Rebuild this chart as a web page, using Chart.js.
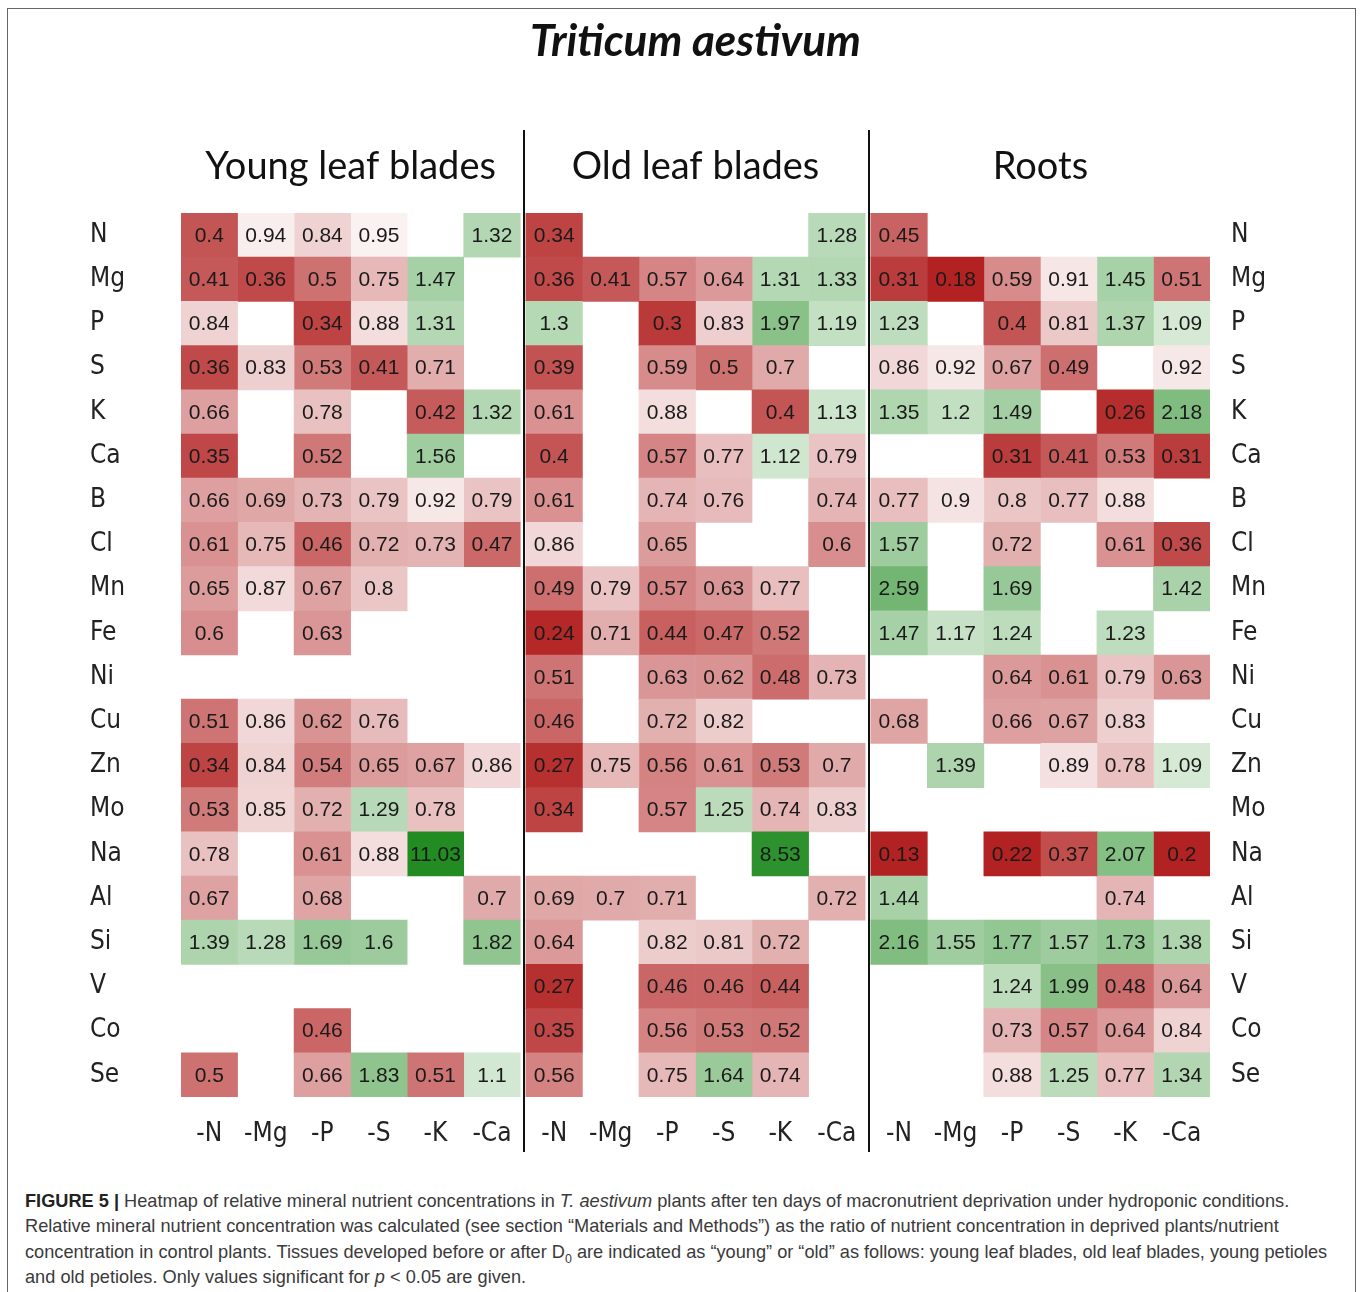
<!DOCTYPE html>
<html>
<head>
<meta charset="utf-8">
<script src="https://cdn.jsdelivr.net/npm/chart.js@4.4.1/dist/chart.umd.min.js"></script>
<style>
  body { margin: 0; background: #fff; }
  .khung { position: absolute; left: 7px; top: 8px; width: 1349px; height: 1290px; border: 1px solid #666; box-sizing: border-box; }
  #vung { position: absolute; left: 0; top: 0; width: 1360px; height: 1165px; }
  .chu-thich { position: absolute; left: 25px; top: 1188px; display: inline-block; font-family: 'Liberation Sans', Arial, sans-serif; font-size: 19px; line-height: 25.3px; color: #3a3a3a; white-space: nowrap; transform-origin: 0 0; }
  .chu-thich b { color: #222; }
</style>
</head>
<body>
<div class="khung"></div>
<div id="vung"><canvas id="bieuDo" width="1360" height="1165"></canvas></div>
<div class="chu-thich" id="chuThich">
  <b>FIGURE 5 |</b> Heatmap of relative mineral nutrient concentrations in <i>T. aestivum</i> plants after ten days of macronutrient deprivation under hydroponic conditions.<br>
  Relative mineral nutrient concentration was calculated (see section “Materials and Methods”) as the ratio of nutrient concentration in deprived plants/nutrient<br>
  concentration in control plants. Tissues developed before or after D<sub style="font-size:13px;line-height:0">0</sub> are indicated as “young” or “old” as follows: young leaf blades, old leaf blades, young petioles<br>
  and old petioles. Only values significant for <i>p</i> &lt; 0.05 are given.
</div>
<script>
var tieuDe = 'Triticum aestivum';
var tenPhan = ['Young leaf blades', 'Old leaf blades', 'Roots'];
var nguyenTo = ['N', 'Mg', 'P', 'S', 'K', 'Ca', 'B', 'Cl', 'Mn', 'Fe', 'Ni', 'Cu', 'Zn', 'Mo', 'Na', 'Al', 'Si', 'V', 'Co', 'Se'];
var thieuHut = ['-N', '-Mg', '-P', '-S', '-K', '-Ca'];

// moi hang: -N, -Mg, -P, -S, -K, -Ca (null = khong co y nghia)
var laNon = [
	[0.4, 0.94, 0.84, 0.95, null, 1.32],
	[0.41, 0.36, 0.5, 0.75, 1.47, null],
	[0.84, null, 0.34, 0.88, 1.31, null],
	[0.36, 0.83, 0.53, 0.41, 0.71, null],
	[0.66, null, 0.78, null, 0.42, 1.32],
	[0.35, null, 0.52, null, 1.56, null],
	[0.66, 0.69, 0.73, 0.79, 0.92, 0.79],
	[0.61, 0.75, 0.46, 0.72, 0.73, 0.47],
	[0.65, 0.87, 0.67, 0.8, null, null],
	[0.6, null, 0.63, null, null, null],
	[null, null, null, null, null, null],
	[0.51, 0.86, 0.62, 0.76, null, null],
	[0.34, 0.84, 0.54, 0.65, 0.67, 0.86],
	[0.53, 0.85, 0.72, 1.29, 0.78, null],
	[0.78, null, 0.61, 0.88, 11.03, null],
	[0.67, null, 0.68, null, null, 0.7],
	[1.39, 1.28, 1.69, 1.6, null, 1.82],
	[null, null, null, null, null, null],
	[null, null, 0.46, null, null, null],
	[0.5, null, 0.66, 1.83, 0.51, 1.1]
];
var laGia = [
	[0.34, null, null, null, null, 1.28],
	[0.36, 0.41, 0.57, 0.64, 1.31, 1.33],
	[1.3, null, 0.3, 0.83, 1.97, 1.19],
	[0.39, null, 0.59, 0.5, 0.7, null],
	[0.61, null, 0.88, null, 0.4, 1.13],
	[0.4, null, 0.57, 0.77, 1.12, 0.79],
	[0.61, null, 0.74, 0.76, null, 0.74],
	[0.86, null, 0.65, null, null, 0.6],
	[0.49, 0.79, 0.57, 0.63, 0.77, null],
	[0.24, 0.71, 0.44, 0.47, 0.52, null],
	[0.51, null, 0.63, 0.62, 0.48, 0.73],
	[0.46, null, 0.72, 0.82, null, null],
	[0.27, 0.75, 0.56, 0.61, 0.53, 0.7],
	[0.34, null, 0.57, 1.25, 0.74, 0.83],
	[null, null, null, null, 8.53, null],
	[0.69, 0.7, 0.71, null, null, 0.72],
	[0.64, null, 0.82, 0.81, 0.72, null],
	[0.27, null, 0.46, 0.46, 0.44, null],
	[0.35, null, 0.56, 0.53, 0.52, null],
	[0.56, null, 0.75, 1.64, 0.74, null]
];
var re = [
	[0.45, null, null, null, null, null],
	[0.31, 0.18, 0.59, 0.91, 1.45, 0.51],
	[1.23, null, 0.4, 0.81, 1.37, 1.09],
	[0.86, 0.92, 0.67, 0.49, null, 0.92],
	[1.35, 1.2, 1.49, null, 0.26, 2.18],
	[null, null, 0.31, 0.41, 0.53, 0.31],
	[0.77, 0.9, 0.8, 0.77, 0.88, null],
	[1.57, null, 0.72, null, 0.61, 0.36],
	[2.59, null, 1.69, null, null, 1.42],
	[1.47, 1.17, 1.24, null, 1.23, null],
	[null, null, 0.64, 0.61, 0.79, 0.63],
	[0.68, null, 0.66, 0.67, 0.83, null],
	[null, 1.39, null, 0.89, 0.78, 1.09],
	[null, null, null, null, null, null],
	[0.13, null, 0.22, 0.37, 2.07, 0.2],
	[1.44, null, null, null, 0.74, null],
	[2.16, 1.55, 1.77, 1.57, 1.73, 1.38],
	[null, null, 1.24, 1.99, 0.48, 0.64],
	[null, null, 0.73, 0.57, 0.64, 0.84],
	[null, null, 0.88, 1.25, 0.77, 1.34]
];

var cacPhan = [laNon, laGia, re];
var buocPhan = 6.1; // 6 cot + khe nho giua cac phan

// chu thich: ep ngang cho giong font hep cua ban goc
var chuThich = document.getElementById('chuThich');
chuThich.style.transform = 'scaleX(' + (1302 / chuThich.offsetWidth) + ')';

function mauO(v) {
	var t, r, g, b;
	if (v < 1) {
		t = Math.min(1, (1 - v) / 0.78);
		r = 255 - t * (255 - 178);
		g = 255 - t * (255 - 34);
		b = g;
	}
	else {
		t = Math.min(1, 0.65 * Math.sqrt(Math.log(v)));
		r = 255 - t * (255 - 34);
		g = 255 - t * (255 - 139);
		b = r;
	}
	return 'rgb(' + Math.round(r) + ',' + Math.round(g) + ',' + Math.round(b) + ')';
}

var datasets = [];
var viTriNhan = [];
cacPhan.forEach((bang, p) => {
	for (var c = 0; c < 6; c++) {
		var x0 = p * buocPhan + c;
		var giaTri = bang.map(hang => hang[c]);
		viTriNhan.push(x0 + 0.5);
		datasets.push({
			data: giaTri.map(v => v == null ? null : [x0, x0 + 1]),
			giaTri: giaTri,
			backgroundColor: giaTri.map(v => v == null ? 'rgba(0,0,0,0)' : mauO(v)),
			borderWidth: 0,
			grouped: false,
			barPercentage: 1,
			categoryPercentage: 1
		});
	}
});

var fontHep = "'DejaVu Sans Condensed', sans-serif";

var nhanGiaTri = {
	id: 'nhanGiaTri',
	afterDatasetsDraw(chart) {
		var ctx = chart.ctx;
		ctx.save();
		ctx.font = '21px "Liberation Sans", Arial, sans-serif';
		ctx.fillStyle = '#1a1a1a';
		ctx.textAlign = 'center';
		ctx.textBaseline = 'middle';
		chart.data.datasets.forEach((ds, i) => {
			chart.getDatasetMeta(i).data.forEach((el, j) => {
				var v = ds.giaTri[j];
				if (v == null) return;
				var pr = el.getProps(['x', 'y', 'base'], true);
				ctx.fillText(String(v), (pr.x + pr.base) / 2, pr.y + 1);
			});
		});
		ctx.restore();
	}
};

var tieuDePhan = {
	id: 'tieuDePhan',
	afterDraw(chart) {
		var ctx = chart.ctx;
		var x = chart.scales.x;
		var vung = chart.chartArea;
		ctx.save();
		ctx.fillStyle = '#111';
		ctx.textAlign = 'center';
		ctx.textBaseline = 'middle';
		ctx.font = 'italic bold 44px Lato, sans-serif';
		ctx.fillText(tieuDe, (vung.left + vung.right) / 2, 42);
		ctx.font = '38px Lato, sans-serif';
		tenPhan.forEach((ten, p) => {
			ctx.fillText(ten, x.getPixelForValue(p * buocPhan + 3), vung.top - 46);
		});
		ctx.strokeStyle = '#111';
		ctx.lineWidth = 2;
		[1, 2].forEach(p => {
			var px = Math.round(x.getPixelForValue(p * buocPhan - (buocPhan - 6) / 2)) + 1;
			ctx.beginPath();
			ctx.moveTo(px, vung.top - 83);
			ctx.lineTo(px, vung.bottom + 55);
			ctx.stroke();
		});
		ctx.restore();
	}
};

var config = {
	type: 'bar',
	data: {
		labels: nguyenTo,
		datasets: datasets
	},
	options: {
		responsive: false,
		animation: false,
		indexAxis: 'y',
		layout: { padding: { left: 90, top: 213, right: 70, bottom: 8 } },
		plugins: {
			legend: { display: false },
			tooltip: { enabled: false }
		},
		scales: {
			x: {
				type: 'linear',
				min: 0,
				max: 3 * buocPhan - (buocPhan - 6),
				grid: { display: false, drawTicks: false },
				border: { display: false },
				afterBuildTicks: (s) => { s.ticks = viTriNhan.map(v => ({ value: v })); },
				afterFit: (s) => { s.height = 60; },
				ticks: {
					autoSkip: false,
					maxRotation: 0,
					padding: 22,
					color: '#222',
					font: { family: fontHep, size: 26 },
					callback: (v, i) => thieuHut[i % 6]
				}
			},
			y: {
				grid: { display: false, drawTicks: false },
				border: { display: false },
				afterFit: (s) => { s.width = 91; },
				ticks: {
					crossAlign: 'far',
					color: '#222',
					font: { family: fontHep, size: 26 }
				}
			},
			y2: {
				type: 'category',
				labels: nguyenTo,
				position: 'right',
				offset: true,
				display: true,
				grid: { display: false, drawTicks: false },
				border: { display: false },
				afterFit: (s) => { s.width = 80; },
				ticks: {
					crossAlign: 'near',
					padding: 21,
					color: '#222',
					font: { family: fontHep, size: 26 }
				}
			}
		}
	},
	plugins: [nhanGiaTri, tieuDePhan]
};

var bieuDo = new Chart(document.getElementById('bieuDo').getContext('2d'), config);
</script>
</body>
</html>
